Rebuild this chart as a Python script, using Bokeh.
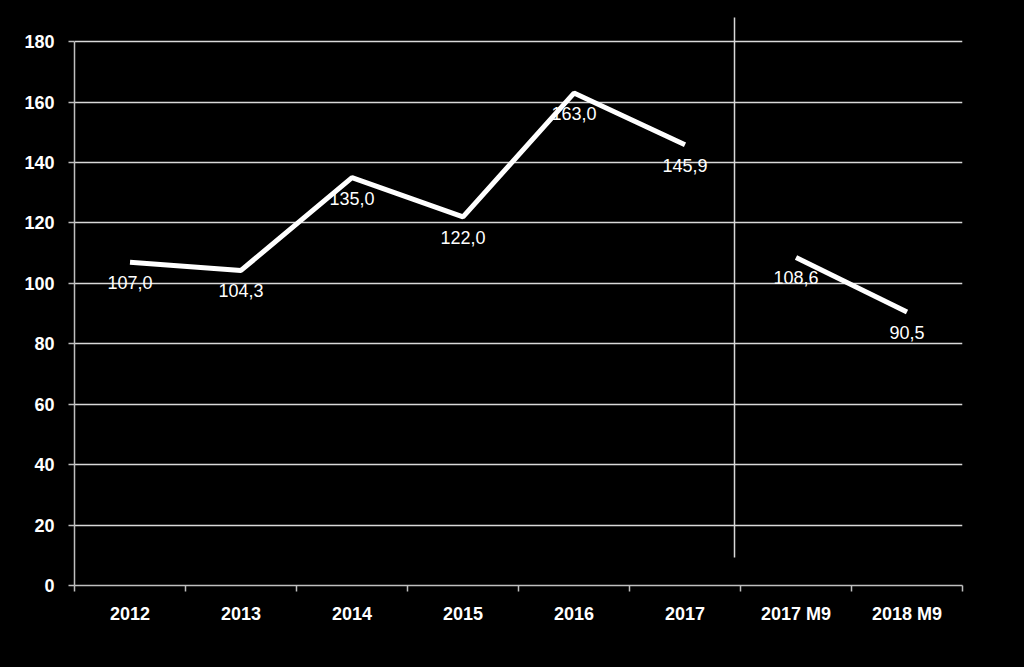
from bokeh.plotting import figure
from bokeh.models import (ColumnDataSource, Range1d, LinearAxis, FixedTicker, LabelSet)
from bokeh.core.properties import value
from bokeh.embed import file_html
from bokeh.resources import INLINE

categories = ["2012", "2013", "2014", "2015", "2016", "2017", "2017 M9", "2018 M9"]
annual_cats = ["2012", "2013", "2014", "2015", "2016", "2017"]
annual_vals = [107.0, 104.3, 135.0, 122.0, 163.0, 145.9]
m9_cats = ["2017 M9", "2018 M9"]
m9_vals = [108.6, 90.5]
y_ticks = [0, 20, 40, 60, 80, 100, 120, 140, 160, 180]

def fmt(v):
    return f"{v:.1f}".replace(".", ",")

def pos(c):
    # centre of a category slot on the numeric category axis
    return categories.index(c) + 0.5

FONT = "'Liberation Sans Narrow', 'Arial Narrow', 'Liberation Sans', Arial, sans-serif"
GRID = "#d9d9d9"
AXIS = "#bfbfbf"

p = figure(x_range=Range1d(0, len(categories)),
           y_range=Range1d(0, 190),
           frame_width=888, frame_height=574,
           width=1016, height=659,
           min_border_left=74, min_border_right=54, min_border_top=11, min_border_bottom=74,
           output_backend="svg", toolbar_location=None,
           x_axis_location=None, y_axis_location=None)
p.background_fill_color = "black"
p.border_fill_color = "black"
p.outline_line_color = None

# y axis
yax = LinearAxis(ticker=FixedTicker(ticks=y_ticks), bounds=(0, 180))
yax.axis_line_color = AXIS
yax.axis_line_width = 1.5
yax.major_tick_line_color = AXIS
yax.major_tick_line_width = 1.5
yax.major_tick_in = 0
yax.major_tick_out = 6
yax.minor_tick_line_color = None
yax.major_label_text_color = "white"
yax.major_label_text_font = FONT
yax.major_label_text_font_style = "bold"
yax.major_label_text_font_size = "18px"
yax.major_label_standoff = 14
p.add_layout(yax, "left")

# x axis: ticks at category boundaries, labels at category centres
centres = [pos(c) for c in categories]
xax = LinearAxis(ticker=FixedTicker(ticks=centres, minor_ticks=list(range(len(categories) + 1))))
xax.major_label_overrides = {c: lab for c, lab in zip(centres, categories)}
xax.axis_line_color = AXIS
xax.axis_line_width = 1.5
xax.major_tick_line_color = None
xax.minor_tick_line_color = AXIS
xax.minor_tick_line_width = 1.5
xax.minor_tick_in = 0
xax.minor_tick_out = 6
xax.major_label_text_color = "white"
xax.major_label_text_font = FONT
xax.major_label_text_font_style = "bold"
xax.major_label_text_font_size = "18px"
xax.major_label_standoff = 12
p.add_layout(xax, "below")

p.xgrid.visible = False
p.ygrid.ticker = FixedTicker(ticks=y_ticks)
p.ygrid.grid_line_color = GRID
p.ygrid.grid_line_width = 1.5

# separator between annual and 9-month data
sep_x = categories.index("2017 M9") - 0.054
p.segment(x0=[sep_x], x1=[sep_x], y0=[9.3], y1=[188], line_color=GRID, line_width=1.5)

src_a = ColumnDataSource(dict(x=[pos(c) for c in annual_cats], y=annual_vals, t=[fmt(v) for v in annual_vals]))
src_m = ColumnDataSource(dict(x=[pos(c) for c in m9_cats], y=m9_vals, t=[fmt(v) for v in m9_vals]))

for src in (src_a, src_m):
    p.line("x", "y", source=src, line_color="white", line_width=5)
    p.add_layout(LabelSet(x="x", y="y", text="t", source=src, text_color="white",
                          text_font=value("Liberation Sans"), text_font_size="18px",
                          text_align="center", text_baseline="top", y_offset=-14))

open("out.html", "w").write(file_html(p, INLINE).replace("<head>", "<head><style>html,body{background:#000;}</style>", 1))
